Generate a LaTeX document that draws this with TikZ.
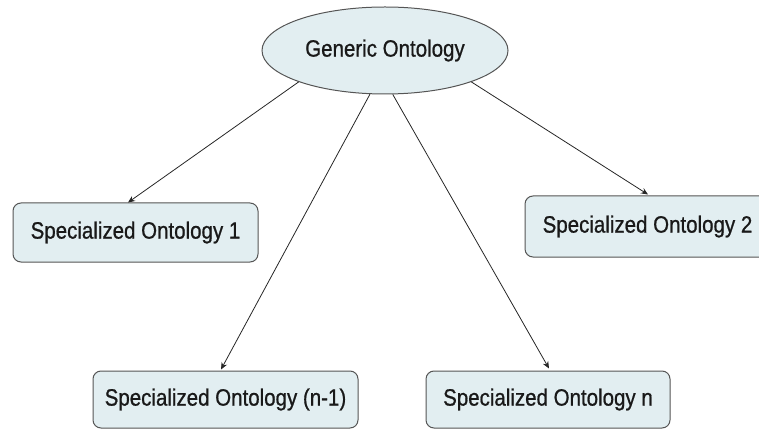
\documentclass[tikz,border=0pt]{standalone}
\usepackage{fontspec}
\setmainfont{Liberation Sans}
\newfontfamily\heavysans{Liberation Sans}[FakeBold=0.9]
\usetikzlibrary{shapes.geometric,arrows.meta}
\definecolor{boxfill}{RGB}{226,238,241}
\definecolor{boxline}{RGB}{85,85,85}
\newcommand\stretchtxt[1]{\scalebox{1}[1.15]{#1}}
\tikzset{
  ontbox/.style={draw=boxline, line width=1pt, fill=boxfill, rounded corners=8pt,
    inner sep=0pt, text=black!90, font=\heavysans\fontsize{20.5}{24}\selectfont},
  genell/.style={ellipse, draw=boxline, line width=1pt, fill=boxfill,
    inner sep=0pt, text=black!90, font=\heavysans\fontsize{20.5}{24}\selectfont},
  arr/.style={line width=0.8pt, draw=black!85, -{Stealth[length=7pt,width=6pt]}}
}
\begin{document}
\begin{tikzpicture}[x=1pt,y=-1pt]
\useasboundingbox (0,0) rectangle (759,430);
\clip (0,0) rectangle (759,430);
\node[genell, minimum width=246pt, minimum height=87pt] (gen) at (385,50.5) {\stretchtxt{Generic Ontology}};
\node[ontbox, minimum width=245pt, minimum height=59pt] (s1) at (135.5,232.5) {\stretchtxt{Specialized Ontology 1}};
\node[ontbox, minimum width=245pt, minimum height=61pt] (s2) at (647.5,226.5) {\stretchtxt{Specialized Ontology 2}};
\node[ontbox, minimum width=265pt, minimum height=57pt] (sn1) at (225.5,399.5) {\stretchtxt{Specialized Ontology (n-1)}};
\node[ontbox, minimum width=244pt, minimum height=57pt] (sn) at (548,399.5) {\stretchtxt{Specialized Ontology n}};
\draw[arr] (gen.200) -- ([xshift=-7.5pt]s1.north);
\draw[arr] (gen.340) -- ([xshift=0.5pt,yshift=1pt]s2.north);
\draw[arr] (gen.251) -- ([xshift=-4.5pt,yshift=1pt]sn1.north);
\draw[arr] (gen.280) -- ([xshift=1pt,yshift=2pt]sn.north);
\end{tikzpicture}
\end{document}
